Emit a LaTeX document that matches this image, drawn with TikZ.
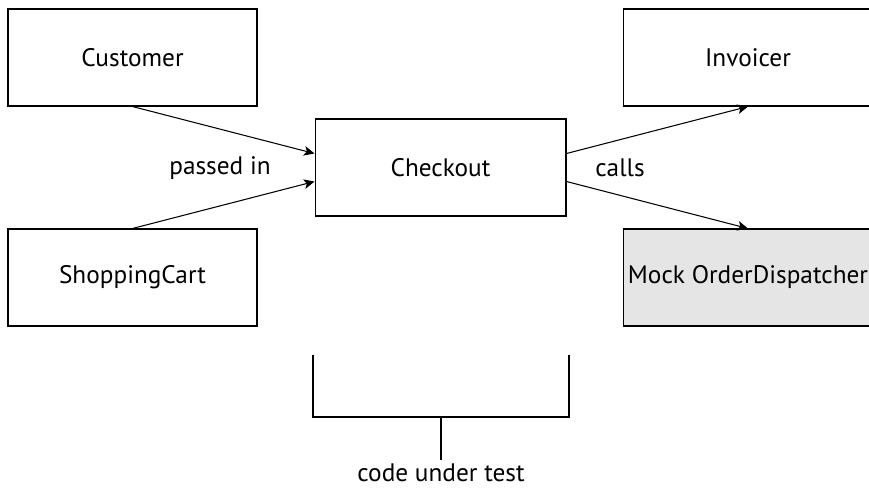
\documentclass[tikz,border=0pt]{standalone}
\usepackage{fontspec}
\setmainfont{PT Sans}
\usetikzlibrary{arrows.meta}
\definecolor{mockgray}{HTML}{E5E5E5}

\begin{document}
\begin{tikzpicture}
		[x=0.02cm, y=-0.02cm,
		box/.style={draw, line width=0.6pt, minimum width=4.98cm,
			minimum height=1.94cm, inner sep=0pt,
			font=\fontsize{14.4}{16}\selectfont},
		link/.style={line width=0.6pt, -{Stealth[length=6pt,width=5.5pt,inset=1.5pt]}},
		lbl/.style={font=\fontsize{14.4}{16}\selectfont}]
		\useasboundingbox (0,0) rectangle (869,488);
		\clip (0,0) rectangle (869,488);
		% boxes
		\node[box] (customer) at (132.5,57.5) {Customer};
		\node[box] (cart) at (132.5,277.5) {ShoppingCart};
		\node[box, minimum width=5.02cm] (checkout) at (440.5,167.5) {Checkout};
		\node[box] (invoicer) at (748,57.5) {Invoicer};
		\node[box, fill=mockgray] (mock) at (748,277.5) {Mock OrderDispatcher};
		% arrows
		\draw[link] (customer.south) -- ([yshift=0.28cm]checkout.west);
		\draw[link] (cart.north) -- ([yshift=-0.28cm]checkout.west);
		\draw[link] ([yshift=0.28cm]checkout.east) -- (invoicer.south);
		\draw[link] ([yshift=-0.28cm]checkout.east) -- (mock.north);
		\node[lbl] (passed) at (220,168) {passed in};
		\node[lbl] (calls) at (620,168) {calls};
		% bracket
		\coordinate (bl) at (313,355);
		\coordinate (br) at (569,355);
		\coordinate (bmid) at (441,417);
		\draw[line width=0.6pt] (bl) |- (bmid) -| (br);
		\node[lbl, inner sep=2pt] (cut) at (441,473) {code under test};
		\coordinate (stemend) at (441,460);
		\draw[line width=0.6pt] (bmid) -- (stemend);
	\end{tikzpicture}
\end{document}
